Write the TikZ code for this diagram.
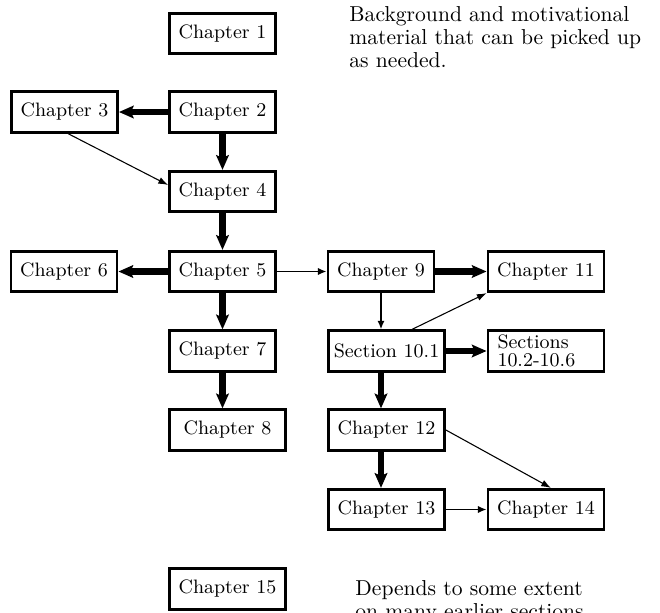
\documentclass[tikz,border=0pt]{standalone}
\usetikzlibrary{arrows.meta,calc}
\begin{document}
\begin{tikzpicture}[x=0.463pt,y=-0.463pt,
  chap/.style={draw,line width=1.3pt,inner sep=0pt,font=\small,minimum height=18.7pt},
  nw/.style={minimum width=49.1pt},
  ww/.style={minimum width=53.7pt},
  thkar/.style={line width=3.2pt,-{Stealth[length=6.8pt,width=5.8pt,inset=1.2pt]}},
  medar/.style={line width=0.9pt,-{Latex[length=4pt,width=3.4pt]}},
  thinar/.style={line width=0.5pt,-{Latex[length=4.5pt,width=3.2pt]}},
  note/.style={anchor=north west,inner sep=0pt,align=left,font=\fontsize{10}{10.6}\selectfont}]
\useasboundingbox (0,0) rectangle (660,613);
\node[chap,nw] (c1) at (222.5,33.5) {Chapter 1};
\node[chap,nw] (c2) at (222.5,112) {Chapter 2};
\node[chap,nw] (c3) at (64.5,112) {Chapter 3};
\node[chap,nw] (c4) at (222.5,191.5) {Chapter 4};
\node[chap,nw] (c5) at (222.5,271.5) {Chapter 5};
\node[chap,nw] (c6) at (64,271.5) {Chapter 6};
\node[chap,nw] (c7) at (222.5,351) {Chapter 7};
\node[chap,ww] (c8) at (227.5,430) {Chapter 8};
\node[chap,nw] (c9) at (381,271.5) {Chapter 9};
\node[chap,ww] (c11) at (546,271.5) {Chapter 11};
\node[chap,ww] (s101) at (386.5,351) {Section 10.1};
\node[chap,ww,text width=44.9pt,inner xsep=4.4pt,align=left,
      font=\fontsize{9}{8.5}\selectfont] (s102) at (546,351) {Sections\\10.2-10.6};
\node[chap,ww] (c12) at (386.5,430) {Chapter 12};
\node[chap,ww] (c13) at (386.5,509.5) {Chapter 13};
\node[chap,ww] (c14) at (546,509.5) {Chapter 14};
\node[chap,ww] (c15) at (227.5,589) {Chapter 15};
\node[note] (n1) at (349,6) {Background and motivational\\material that can be picked up\\as needed.};
\node[note] (n2) at (355,580) {Depends to some extent\\on many earlier sections.};
\draw[thkar] (c2) -- (c3);
\draw[thkar] (c2) -- (c4);
\draw[thkar] (c4) -- (c5);
\draw[thkar] (c5) -- (c6);
\draw[medar] (c5) -- (c9);
\draw[thkar] (c5) -- (c7);
\draw[thkar] (c7.south) -- (c7.south |- c8.north);
\draw[thkar] (c9) -- (c11);
\draw[medar] (c9.south) -- (c9.south |- s101.north);
\draw[thkar] (s101) -- (s102);
\draw[thkar] (c9.south |- s101.south) -- (c9.south |- c12.north);
\draw[thkar] (c9.south |- c12.south) -- (c9.south |- c13.north);
\draw[medar] (c13) -- (c14);
\draw[thinar] ($(c3.south)+(3.5,0)$) -- ($(c4.west)+(0,-6.5)$);
\draw[thinar] ($(s101.north)+(25.5,0)$) -- (c11.south west);
\draw[thinar] (c12.east) -- ($(c14.north)+(5,0)$);
\end{tikzpicture}
\end{document}
